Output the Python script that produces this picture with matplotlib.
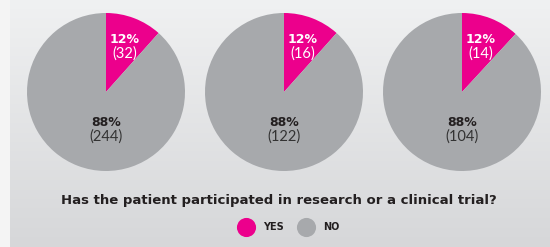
import matplotlib
matplotlib.use("Agg")
import matplotlib.pyplot as plt
import numpy as np

# data
yes_counts = [32, 16, 14]
no_counts = [244, 122, 104]
yes_pct = ["12%", "12%", "12%"]
no_pct = ["88%", "88%", "88%"]
title = "Has the patient participated in research or a clinical trial?"
legend_labels = ["YES", "NO"]

pink = "#ec008c"
grey = "#a7a9ac"
dark = "#231f20"

W, H = 550, 247
fig = plt.figure(figsize=(W / 100, H / 100), dpi=100)
fig.patch.set_facecolor("#f4f4f4")

# gradient panel behind the pies
bg = fig.add_axes([10 / W, 0, (W - 10) / W, 1])
grad = np.linspace(0, 1, 256).reshape(-1, 1)
bg.imshow(grad, aspect="auto", cmap=matplotlib.colors.LinearSegmentedColormap.from_list(
    "bg", ["#f0f1f2", "#d6d7d9"]), extent=[0, 1, 0, 1], origin="upper")
bg.set_axis_off()

r = 79
cy = H - 92
centres = [106, 284, 462]

for i, cx in enumerate(centres):
    ax = fig.add_axes([(cx - r) / W, (cy - r) / H, 2 * r / W, 2 * r / H])
    ax.pie([yes_counts[i], no_counts[i]], colors=[pink, grey], startangle=90,
           counterclock=False, radius=1, wedgeprops=dict(linewidth=0))
    ax.set_xlim(-1, 1)
    ax.set_ylim(-1, 1)
    ax.set_aspect("auto")
    ax.text(0.24, 0.67, yes_pct[i], color="white", fontsize=9, fontweight="bold",
            ha="center", va="center")
    ax.text(0.24, 0.49, "(%d)" % yes_counts[i], color="white", fontsize=10.5,
            ha="center", va="center", family="Lato")
    ax.text(0, -0.39, no_pct[i], color=dark, fontsize=9, fontweight="bold",
            ha="center", va="center")
    ax.text(0, -0.57, "(%d)" % no_counts[i], color="#333333", fontsize=10.5,
            ha="center", va="center", family="Lato")

fig.text(279 / W, 1 - 200 / H, title, fontsize=9.5, fontweight="heavy", color=dark,
         ha="center", va="center")

# legend
leg = fig.add_axes([0, 0, 1, 1])
leg.set_xlim(0, W)
leg.set_ylim(H, 0)
leg.set_axis_off()
ly = 227
for x0, lab, col in [(246, legend_labels[0], pink), (306, legend_labels[1], grey)]:
    leg.scatter([x0], [ly], s=190, color=col, linewidths=0)
    leg.text(x0 + 17, ly, lab, fontsize=7, fontweight="bold", color=dark,
             ha="left", va="center")

fig.savefig("out.png", dpi=100)
